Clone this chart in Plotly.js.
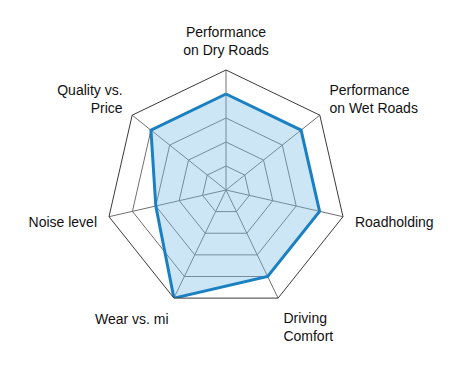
<!DOCTYPE html>
<html>
<head>
<meta charset="utf-8">
<script src="https://cdn.plot.ly/plotly-3.0.1.min.js"></script>
<style>html,body{margin:0;padding:0;background:#fff;}#chart{width:450px;height:380px;}</style>
</head>
<body>
<div id="chart"></div>
<script>
var categories = ["Performance<br>on Dry Roads", "Performance<br>on Wet Roads", "Roadholding", "Driving<br>Comfort", "Wear vs. mi", "Noise level", "Quality vs.<br>Price"];
var values = [4, 4, 4, 4, 5, 3, 4];

var trace = {
  type: "scatterpolar",
  r: values.concat([values[0]]),
  theta: categories.concat([categories[0]]),
  mode: "lines",
  fill: "toself",
  fillcolor: "rgba(120,190,232,0.38)",
  line: {color: "#1a80c2", width: 3},
  hoverinfo: "skip"
};

var layout = {
  width: 450, height: 380,
  margin: {l: 0, r: 0, t: 0, b: 0},
  paper_bgcolor: "#fff",
  showlegend: false,
  font: {family: "Liberation Sans, Arial, sans-serif", size: 14, color: "#111"},
  polar: {
    domain: {x: [(226-120)/450, (226+120)/450], y: [(380-310)/380, (380-70)/380]},
    bgcolor: "rgba(0,0,0,0)",
    gridshape: "linear",
    radialaxis: {
      range: [0, 5], dtick: 1, showticklabels: false, ticks: "",
      showline: false, gridcolor: "#707070", gridwidth: 1, layer: "above traces"
    },
    angularaxis: {
      direction: "clockwise", rotation: 90,
      linecolor: "#3a3a3a", linewidth: 1,
      gridcolor: "#707070", gridwidth: 1,
      ticks: "outside", ticklen: 9, tickcolor: "rgba(0,0,0,0)",
      layer: "above traces",
      tickfont: {size: 14, color: "#111"}
    }
  }
};

Plotly.newPlot("chart", [trace], layout, {displayModeBar: false, staticPlot: true});
</script>
</body>
</html>
